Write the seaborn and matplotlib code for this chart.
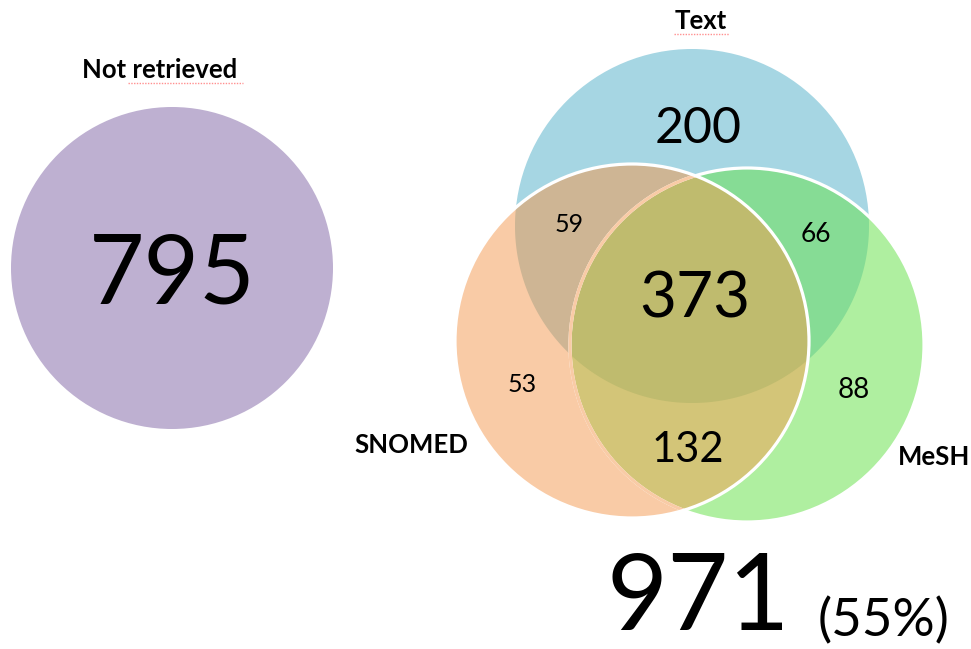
import numpy as np
import matplotlib
matplotlib.use("Agg")
import matplotlib.pyplot as plt
from matplotlib.patches import Circle, Polygon
import seaborn as sns

# retrieval overlap between the three query methods
set_names = ["Text", "SNOMED", "MeSH"]
region_keys = [("Text",), ("SNOMED",), ("MeSH",),
               ("Text", "SNOMED"), ("Text", "MeSH"), ("SNOMED", "MeSH"),
               ("Text", "SNOMED", "MeSH")]
region_counts = [200, 53, 88, 59, 66, 132, 373]
not_retrieved = 795

total_retrieved = sum(region_counts)
pct_retrieved = round(100 * total_retrieved / (total_retrieved + not_retrieved))

# layout (pixel coords of the 971x649 canvas)
R = 177
centers = {"Text": (692, 226), "SNOMED": (632, 341), "MeSH": (747, 345)}
region_colors = {
    ("Text",): "#a6d6e3", ("SNOMED",): "#f9cba6", ("MeSH",): "#afefa0",
    ("Text", "SNOMED"): "#ceb594", ("Text", "MeSH"): "#86dc95",
    ("SNOMED", "MeSH"): "#d3c578", ("Text", "SNOMED", "MeSH"): "#bfbb6e",
}
# (x, baseline y, size in pt)
region_text = {
    ("Text",): (698, 143, 36), ("SNOMED",): (522, 392, 18), ("MeSH",): (854, 398, 20),
    ("Text", "SNOMED"): (569, 232, 18), ("Text", "MeSH"): (816, 242, 19),
    ("SNOMED", "MeSH"): (688, 462, 30), ("Text", "SNOMED", "MeSH"): (695, 318, 46),
}
set_label_pos = {"Text": (701, 29), "SNOMED": (411, 453), "MeSH": (934, 465)}

sns.set_theme(style="white")
plt.rcParams["font.family"] = ["Lato", "DejaVu Sans"]
plt.rcParams["text.color"] = "black"

fig = plt.figure(figsize=(9.71, 6.49), dpi=100)
ax = fig.add_axes([0, 0, 1, 1])
ax.set_xlim(0, 971)
ax.set_ylim(649, 0)
ax.axis("off")


def lens(keys):
    # outline of the intersection of the given circles (convex)
    th = np.linspace(0, 2 * np.pi, 2000, endpoint=False)
    pts = []
    for k in keys:
        cx, cy = centers[k]
        p = np.c_[cx + R * np.cos(th), cy + R * np.sin(th)]
        keep = np.ones(len(p), bool)
        for o in keys:
            if o != k:
                ox, oy = centers[o]
                keep &= np.hypot(p[:, 0] - ox, p[:, 1] - oy) <= R + 1e-6
        pts.append(p[keep])
    P = np.vstack(pts)
    c = P.mean(axis=0)
    return P[np.argsort(np.arctan2(P[:, 1] - c[1], P[:, 0] - c[0]))]


# not retrieved
ax.add_patch(Circle((172, 268), 161, color="#beb0d1", lw=0))
ax.text(172, 304, str(not_retrieved), fontsize=69, ha="center", va="baseline")
ax.text(160, 78, "Not retrieved", fontsize=18.5, fontweight="bold", ha="center", va="baseline")
ax.plot([128, 243], [83, 83], color="#ff9090", lw=1, ls=(0, (1, 1)))

# full circles, then overlaps
fills = {}
for name in ["Text", "MeSH", "SNOMED"]:
    fills[name] = ax.add_patch(Circle(centers[name], R, color=region_colors[(name,)], lw=0))
for keys in region_keys[3:]:
    ax.add_patch(Polygon(lens(keys), closed=True, color=region_colors[keys], lw=0))

# outlines
ax.add_patch(Circle(centers["MeSH"], R, fill=False, ec="white", lw=2.3))
faint = ax.add_patch(Circle(centers["MeSH"], R, fill=False, ec=region_colors[("SNOMED",)], lw=2.3))
faint.set_clip_path(fills["SNOMED"])
ax.add_patch(Circle(centers["SNOMED"], R, fill=False, ec="white", lw=2.3))

for keys, n in zip(region_keys, region_counts):
    x, y, fs = region_text[keys]
    ax.text(x, y, str(n), fontsize=fs, ha="center", va="baseline")

for name in set_names:
    x, y = set_label_pos[name]
    ax.text(x, y, name, fontsize=18.5, fontweight="bold", ha="center", va="baseline")
ax.plot([674, 729], [34, 34], color="#ff9090", lw=1, ls=(0, (1, 1)))

ax.text(698, 630, str(total_retrieved), fontsize=76, ha="center", va="baseline")
ax.text(818, 636, f"({pct_retrieved}%)", fontsize=38, ha="left", va="baseline")

fig.savefig("out.png", dpi=100)
